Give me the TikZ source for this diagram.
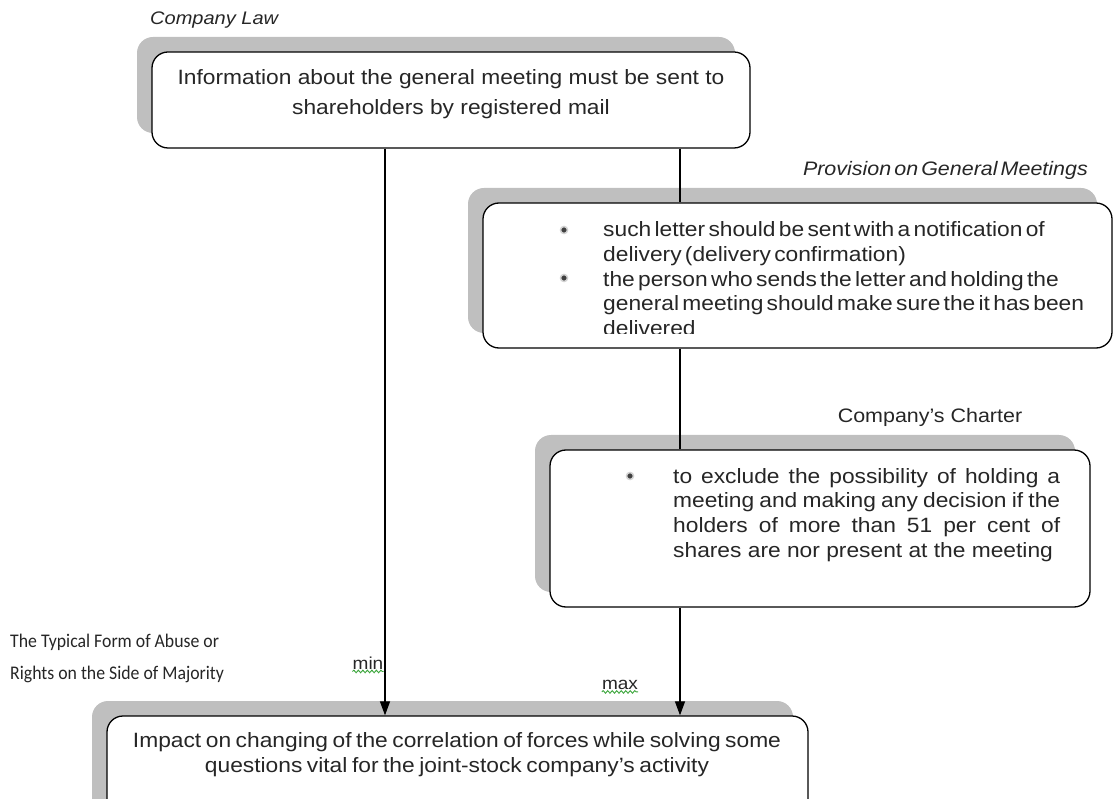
\documentclass[tikz,border=0pt]{standalone}
\usepackage{fontspec}
\setmainfont[FakeStretch=1.1]{Liberation Sans}
\newfontfamily\calfont[FakeStretch=0.92]{Carlito}
\usetikzlibrary{arrows.meta,shadows,decorations.pathmorphing}
\definecolor{shade}{HTML}{BFBFBF}
\definecolor{ink}{HTML}{262626}
\definecolor{wavy}{HTML}{3BA53B}
\newcommand{\tightspaces}{\spaceskip=0.16em plus 0.05em minus 0.02em\relax}
\newcommand{\narrowspaces}{\spaceskip=0.22em plus 0.05em minus 0.02em\relax}
\begin{document}
\begin{tikzpicture}[x=1pt,y=-1pt,
  box/.style={draw=black, line width=1.3pt, rounded corners=16pt, fill=white,
    inner sep=0pt, general shadow={fill=shade, shadow xshift=-15pt, shadow yshift=15pt}},
  link/.style={draw=black, line width=1.2pt},
  arrowlink/.style={link, -{Triangle[length=14pt,width=10pt]}},
  heading/.style={font=\fontsize{18.2}{22}\selectfont\itshape, text=ink, inner sep=0pt},
  caption/.style={font=\fontsize{19.5}{22}\selectfont, text=ink, inner sep=0pt},
  body/.style={font=\fontsize{20.7}{30}\selectfont, text=ink, inner sep=0pt, align=center},
  listtext/.style={font=\fontsize{20.7}{24.7}\selectfont\tightspaces, text=ink, inner sep=0pt, align=left},
  bullet/.style={circle, fill=black!75, draw=gray!35, line width=1.5pt, inner sep=0pt, minimum size=7pt},
  side/.style={font=\calfont\fontsize{19.3}{32}\selectfont, text=ink, inner sep=0pt, align=left},
  mark label/.style={font=\fontsize{17.3}{20}\selectfont, text=ink, inner sep=0pt},
  squiggle/.style={draw=wavy, line width=0.9pt, decorate,
    decoration={snake, amplitude=1.3pt, segment length=4.5pt}}
]
\useasboundingbox (0,0) rectangle (1114,799);

% boxes
\node[box, minimum width=598pt, minimum height=96pt] (law) at (451,100) {};
\node[box, minimum width=629pt, minimum height=145pt] (prov) at (797.5,275.5) {};
\node[box, minimum width=540pt, minimum height=157pt] (charter) at (820,528.5) {};
\node[box, minimum width=701pt, minimum height=114pt] (impact) at (457.5,773) {};

% headings
\node[heading, anchor=west] (lawhead) at (150,20) {Company Law};
\node[heading, font={\fontsize{19.5}{22}\selectfont\itshape\tightspaces}, anchor=east] (provhead) at (1088,170) {Provision on General Meetings};
\node[caption] (charterhead) at (930,417) {Company's Charter};
\node[side, anchor=west] (abuse) at (10,658) {The Typical Form of Abuse or\\Rights on the Side of Majority};

% box texts
\node[body] (lawtext) at (451,94.5) {Information about the general meeting must be sent to\\shareholders by registered mail};

\begin{scope}
  \clip (prov.north west) rectangle ([yshift=15pt]prov.south east);
  \node[listtext, anchor=north west] (provtext) at (603,221.6)
    {such letter should be sent with a notification of\\
     delivery (delivery confirmation)\\
     the person who sends the letter and holding the\\
     general meeting should make sure the it has been\\
     delivered};
\end{scope}
\node[bullet] (b1) at (564,230) {};
\node[bullet] (b2) at (564,278) {};

\node[listtext, font={\fontsize{20.7}{24.7}\selectfont}, anchor=north west] (chartertext) at (673,468)
  {\makebox[387pt][s]{to exclude the possibility of holding a}\\
   \makebox[387pt][s]{meeting and making any decision if the}\\
   \makebox[387pt][s]{holders of more than 51 per cent of}\\
   shares are nor present at the meeting};
\node[bullet] (b3) at (630,476) {};

\node[body, font={\fontsize{20.7}{25.5}\selectfont\narrowspaces}] (impacttext) at (457,754.4)
  {Impact on changing of the correlation of forces while solving some\\questions vital for the joint-stock company's activity};

% connectors
\coordinate (lx) at (385,0);
\coordinate (rx) at (680,0);
\draw[arrowlink] (law.south -| lx) -- (impact.north -| lx);
\draw[link] (law.south -| rx) -- (prov.north -| rx);
\draw[link] (prov.south -| rx) -- (charter.north -| rx);
\draw[arrowlink] (charter.south -| rx) -- (impact.north -| rx);

% min / max marks
\node[mark label] (min) at (368,663) {min};
\node[mark label] (max) at (620,685) {max};
\draw[squiggle] ([yshift=-2pt]min.south west) -- ([yshift=-2pt]min.south east);
\draw[squiggle] ([yshift=-2pt]max.south west) -- ([yshift=-2pt]max.south east);
\end{tikzpicture}
\end{document}
